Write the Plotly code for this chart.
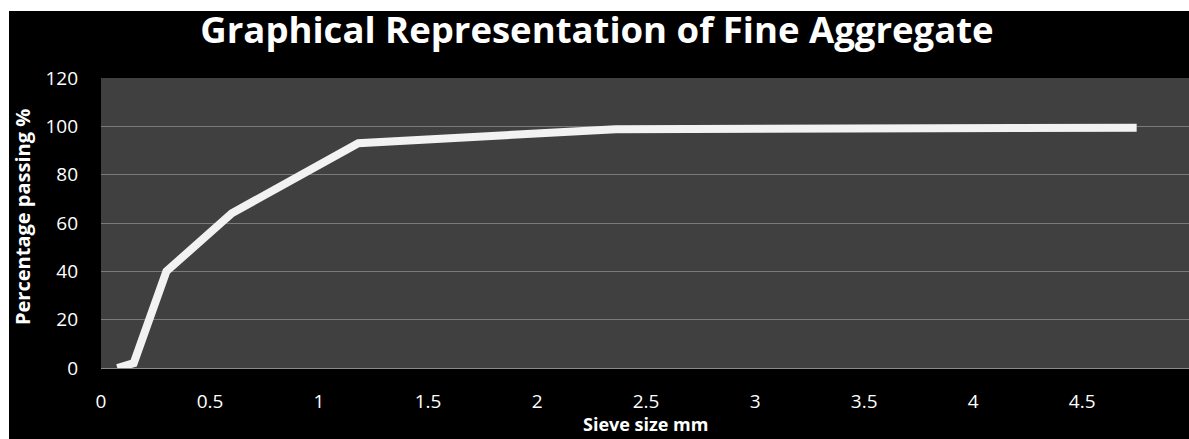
import plotly.graph_objects as go

# Sieve analysis of fine aggregate
sieve_size_mm = [0.075, 0.15, 0.3, 0.6, 1.18, 2.36, 4.75]
percent_passing = [0, 2, 40, 64, 93, 98.8, 99.4]

x_ticks = [0, 0.5, 1, 1.5, 2, 2.5, 3, 3.5, 4, 4.5, 5]
x_tick_text = ["0", "0.5", "1", "1.5", "2", "2.5", "3", "3.5", "4", "4.5", "5"]
y_ticks = [0, 20, 40, 60, 80, 100, 120]

W, H = 1189, 439
L, R, T, B = 101, 0, 78, 71
pw, ph = W - L - R, H - T - B

def px_to_paper_x(p):
    return (p - L) / pw

def px_to_paper_y(p):
    return (H - B - p) / ph

fig = go.Figure()
fig.add_trace(go.Scatter(
    x=sieve_size_mm, y=percent_passing, mode="lines",
    line=dict(color="#f2f2f2", width=8),
    hoverinfo="x+y", showlegend=False,
))

font = "Open Sans, Lato, sans-serif"

fig.update_layout(
    width=W, height=H,
    margin=dict(l=L, r=R, t=T, b=B),
    paper_bgcolor="#000000",
    plot_bgcolor="#404040",
    title=dict(text="<b>Graphical Representation of Fine Aggregate</b>",
               x=597 / W, xref="container", xanchor="center",
               y=1 - 30 / H, yref="container", yanchor="middle",
               font=dict(family=font, size=36.5, color="#ffffff")),
    xaxis=dict(range=[0, 4.99], tickvals=x_ticks, ticktext=x_tick_text,
               showgrid=False, zeroline=False,
               showline=True, linecolor="#8a8a8a", linewidth=1,
               ticks="", ticklabelstandoff=16, automargin=False,
               tickfont=dict(family=font, size=19, color="#ffffff")),
    yaxis=dict(range=[0, 120], tickvals=y_ticks,
               showgrid=True, gridcolor="#7a7a7a", gridwidth=1,
               zeroline=False, showline=False,
               ticks="", ticklabelstandoff=22, automargin=False,
               tickfont=dict(family=font, size=19, color="#ffffff")),
    annotations=[
        dict(text="<b>Sieve size mm</b>", xref="paper", yref="paper",
             x=px_to_paper_x(645), y=px_to_paper_y(438),
             xanchor="center", yanchor="bottom", showarrow=False,
             font=dict(family=font, size=18, color="#ffffff")),
        dict(text="<b>Percentage passing %</b>", xref="paper", yref="paper",
             x=px_to_paper_x(22), y=px_to_paper_y(217), textangle=-90,
             xanchor="center", yanchor="middle", showarrow=False,
             font=dict(family=font, size=20, color="#ffffff")),
    ],
    shapes=[
        # white border strips along the top and left edges
        dict(type="rect", xref="paper", yref="paper", layer="above",
             x0=px_to_paper_x(0), x1=px_to_paper_x(W), y0=px_to_paper_y(11), y1=px_to_paper_y(0),
             fillcolor="#ffffff", line=dict(width=0)),
        dict(type="rect", xref="paper", yref="paper", layer="above",
             x0=px_to_paper_x(0), x1=px_to_paper_x(9), y0=px_to_paper_y(H), y1=px_to_paper_y(0),
             fillcolor="#ffffff", line=dict(width=0)),
    ],
)

fig.write_html(
    "out.html",
    post_script="document.body.style.margin='0';document.body.style.overflow='hidden';",
)
